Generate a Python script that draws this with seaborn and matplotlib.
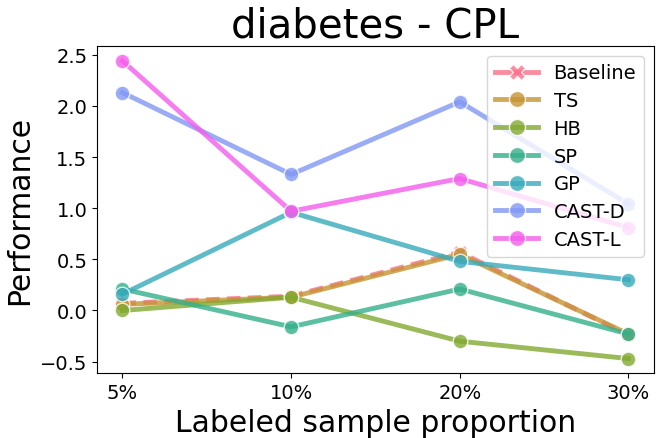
import pandas as pd
import numpy as np
import seaborn as sns
import matplotlib.pyplot as plt

# valores
proporcoes = ['5%', '10%', '20%', '30%']
baseline = [0.07, 0.14, 0.57, -0.24]
ts = [0.06, 0.13, 0.55, -0.23]
hb = [0.00, 0.13, -0.30, -0.47]
sp = [0.21, -0.16, 0.21, -0.23]
gp = [0.16, 0.96, 0.48, 0.30]
cast_d = [2.13, 1.33, 2.04, 1.04]
cast_l = [2.44, 0.97, 1.29, 0.81]

metodos = ['Baseline', 'TS', 'HB', 'SP', 'GP', 'CAST-D', 'CAST-L']
valores = [baseline, ts, hb, sp, gp, cast_d, cast_l]

linhas = []
for m, v in zip(metodos, valores):
    for p, y in zip(proporcoes, v):
        linhas.append({'Method': m, 'Proportion': p, 'Performance': y})
df = pd.DataFrame(linhas)

#%% Grafico
fig = plt.figure(figsize=(6.61, 4.39), dpi=100)
ax = sns.lineplot(data=df, x='Proportion', y='Performance', hue='Method', style='Method',
                  markers={m: ('X' if m == 'Baseline' else 'o') for m in metodos},
                  dashes={m: ((2.8, 1.5) if m == 'Baseline' else '') for m in metodos},
                  palette=sns.color_palette('husl', 7), linewidth=3.5, markersize=10.5,
                  alpha=0.8, markeredgecolor='white', markeredgewidth=1)
ax.set_title('diabetes - CPL', fontsize=29)
ax.set_xlabel('Labeled sample proportion', fontsize=21.5)
ax.set_ylabel('Performance', fontsize=21.5)
ax.tick_params(labelsize=14)
ax.set_yticks([-0.5, 0.0, 0.5, 1.0, 1.5, 2.0, 2.5])
leg = ax.legend(loc='upper right', fontsize=14, borderpad=0.4, labelspacing=0.45,
                handlelength=2.2, markerscale=1.1)
# handle do baseline aparece continuo na legenda
leg.get_lines()[0].set_linestyle('-')

plt.subplots_adjust(left=0.147, right=0.989, top=0.893, bottom=0.147)
plt.savefig('out.png', dpi=100)
